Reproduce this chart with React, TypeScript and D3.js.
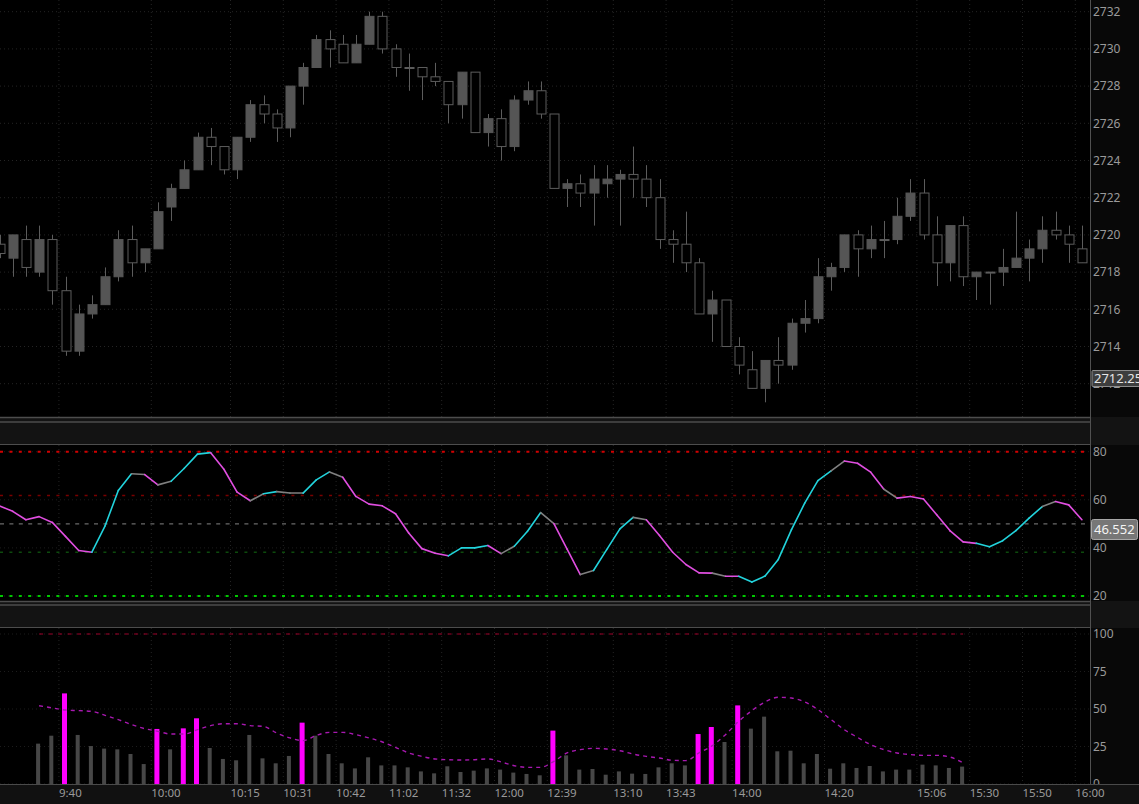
import * as d3 from 'd3';

// price candles, one per bar (index 0..82)
const opens = [2719.5, 2718.75, 2719.75, 2718.0, 2719.75, 2717.0, 2713.75, 2715.75, 2716.25, 2717.75,
  2719.75, 2718.5, 2719.25, 2721.5, 2722.5, 2723.5, 2725.25, 2724.75, 2723.5, 2725.25,
  2727.0, 2726.5, 2725.75, 2728.0, 2729.0, 2730.5, 2730.25, 2729.25, 2730.25, 2731.75,
  2730.0, 2729.0, 2729.0, 2728.5, 2728.25, 2727.0, 2728.75, 2725.5, 2726.25, 2724.75,
  2727.25, 2727.75, 2726.5, 2722.5, 2722.75, 2722.25, 2722.75, 2723.0, 2723.25, 2723.0,
  2722.0, 2719.75, 2719.5, 2718.5, 2715.75, 2716.5, 2714.0, 2712.75, 2711.75, 2713.25,
  2713.0, 2715.25, 2715.5, 2717.75, 2718.25, 2720.0, 2719.25, 2719.75, 2719.75, 2721.0,
  2722.25, 2720.0, 2718.5, 2720.5, 2717.75, 2718.0, 2718.0, 2718.25, 2718.75, 2719.25,
  2720.25, 2720.0, 2719.25];
const highs = [2720.0, 2720.0, 2720.5, 2720.5, 2720.0, 2717.75, 2716.25, 2716.75, 2718.25, 2720.25,
  2720.5, 2719.25, 2721.75, 2722.75, 2724.0, 2725.5, 2725.75, 2724.75, 2725.25, 2727.25,
  2727.5, 2726.75, 2728.0, 2729.25, 2730.75, 2731.0, 2730.75, 2730.75, 2732.0, 2732.0,
  2730.25, 2729.75, 2729.0, 2729.25, 2728.25, 2728.75, 2728.75, 2726.5, 2726.75, 2727.5,
  2728.25, 2728.25, 2726.5, 2723.0, 2723.25, 2723.75, 2723.75, 2723.5, 2724.75, 2723.75,
  2723.0, 2720.25, 2721.25, 2718.75, 2717.0, 2716.5, 2714.5, 2713.75, 2713.25, 2714.5,
  2715.5, 2716.5, 2718.75, 2718.5, 2720.0, 2720.25, 2720.5, 2720.75, 2722.0, 2723.0,
  2723.0, 2721.0, 2720.5, 2721.0, 2718.0, 2718.0, 2719.25, 2721.25, 2719.75, 2721.0,
  2721.25, 2720.5, 2720.5];
const lows = [2718.75, 2717.75, 2717.75, 2717.75, 2716.25, 2713.5, 2713.5, 2715.5, 2716.25, 2717.5,
  2717.75, 2718.0, 2719.25, 2720.75, 2722.5, 2723.5, 2723.75, 2723.25, 2723.0, 2725.0,
  2726.0, 2725.0, 2725.25, 2727.0, 2729.0, 2729.0, 2729.25, 2729.25, 2730.25, 2729.75,
  2728.5, 2727.75, 2727.25, 2728.0, 2726.0, 2726.25, 2725.5, 2724.75, 2724.0, 2724.5,
  2727.0, 2726.25, 2722.5, 2721.5, 2721.5, 2720.5, 2722.0, 2720.5, 2722.0, 2721.5,
  2719.25, 2718.5, 2718.0, 2715.75, 2714.25, 2714.0, 2712.5, 2711.75, 2711.0, 2712.0,
  2712.75, 2714.75, 2715.25, 2717.0, 2718.0, 2717.75, 2718.75, 2718.75, 2719.5, 2720.75,
  2719.75, 2717.25, 2717.5, 2717.25, 2716.5, 2716.25, 2717.25, 2718.25, 2717.5, 2718.5,
  2719.75, 2718.5, 2718.5];
const closes = [2719.0, 2720.0, 2718.25, 2719.75, 2717.0, 2713.75, 2715.75, 2716.25, 2717.75, 2719.75,
  2718.5, 2719.25, 2721.25, 2722.5, 2723.5, 2725.25, 2724.75, 2723.5, 2725.25, 2727.0,
  2726.5, 2725.75, 2728.0, 2729.0, 2730.5, 2730.0, 2729.25, 2730.25, 2731.75, 2730.0,
  2729.0, 2729.0, 2728.5, 2728.25, 2727.0, 2728.75, 2725.5, 2726.25, 2724.75, 2727.25,
  2727.75, 2726.5, 2722.5, 2722.75, 2722.25, 2723.0, 2723.0, 2723.25, 2723.0, 2722.0,
  2719.75, 2719.5, 2718.5, 2715.75, 2716.5, 2714.0, 2713.0, 2711.75, 2713.25, 2713.0,
  2715.25, 2715.5, 2717.75, 2718.25, 2720.0, 2719.25, 2719.75, 2719.75, 2721.0, 2722.25,
  2720.0, 2718.5, 2720.5, 2717.75, 2718.0, 2718.0, 2718.25, 2718.75, 2719.25, 2720.25,
  2720.0, 2719.5, 2718.5];

// RSI (index 0..83), segment colours: m = falling, c = rising, g = neutral
const rsiValues = [57.5, 55.2, 51.7, 53.0, 50.6, 44.8, 38.9, 38.2, 49.2, 63.9,
  70.8, 70.5, 66.2, 67.7, 73.1, 79.0, 79.6, 72.7, 63.2, 59.6,
  62.5, 63.4, 62.8, 62.8, 68.3, 71.6, 69.4, 61.4, 58.2, 57.5,
  54.2, 46.2, 39.7, 37.8, 36.7, 40.0, 40.0, 41.0, 37.6, 40.7,
  46.9, 54.7, 50.1, 39.5, 28.9, 30.6, 39.3, 47.9, 52.7, 51.7,
  45.2, 38.2, 33.1, 29.6, 29.5, 28.2, 28.2, 25.8, 28.3, 35.2,
  47.6, 58.6, 68.0, 72.0, 76.1, 75.2, 71.5, 64.4, 60.7, 61.4,
  60.3, 53.8, 47.2, 42.5, 41.9, 40.5, 43.0, 47.2, 52.4, 57.2,
  59.3, 57.9, 51.7, 46.552];
const rsiColors = 'mmmmmmmcccgmgcccmmmgcggccgmmmmmmmmcccmgccgmmgcccgmmmmmgmcccccccgmmmgmmmmmmcccccgmm'.split('');
const rsiLevels = [80, 61.8, 50, 38.2, 20];
const rsiTicks = [20, 40, 60, 80];

// volume (starting at bar 3), with its average
const volStart = 3;
const volumes = [26.9, 32.2, 60.4, 32.7, 25.3, 23.6, 23.1, 20, 13.3, 36.7,
  23.1, 37.1, 43.8, 24, 16.7, 15.8, 32.7, 17.1, 13.8, 18.7,
  40.9, 32.2, 20, 13.8, 10.4, 17.8, 12.4, 12.4, 11.1, 8.4,
  7.1, 11.8, 8, 8.9, 10.4, 9.6, 7.6, 6.7, 5.8, 35.6,
  19.1, 9.6, 10, 6.2, 8.4, 6.9, 6.7, 11.1, 13.8, 12.4,
  33.3, 38, 28, 52.4, 36.9, 44.9, 21.8, 22.2, 13.8, 20,
  10.2, 13.8, 10.7, 12, 8.4, 9.6, 9.6, 12.9, 12.4, 10.7, 11.6];
const volAvg = [52.2, 50.7, 49.3, 48.9, 48.4, 45.8, 42.9, 39.6, 36.9, 35.1,
  33.3, 33.3, 36.2, 38.9, 40.2, 40.2, 38.9, 38.4, 34, 30.7,
  28.9, 32.4, 34.4, 34.4, 32.9, 30.7, 28, 24.4, 20.7, 18.4,
  16.7, 16.2, 16, 16.2, 16.7, 14.7, 12.2, 11.1, 11.1, 15.1,
  20.7, 22.9, 23.8, 23.3, 22.2, 20, 18.4, 17.3, 15.8, 15.6,
  20.7, 25.6, 32.9, 41.8, 48.9, 54.7, 57.8, 57.3, 54.7, 49.6,
  42.9, 36.2, 31.1, 26.2, 22.9, 20.7, 19.6, 19.1, 19.1, 18, 14];
const volSpikes = [5, 12, 14, 15, 23, 42, 53, 54, 56];
const volTicks = [0, 25, 50, 75, 100];

const priceTicks = [2712, 2714, 2716, 2718, 2720, 2722, 2724, 2726, 2728, 2730, 2732];
const timeTicks = [
  { i: 5, label: '9:40' }, { i: 12, label: '10:00' }, { i: 18, label: '10:15' }, { i: 22, label: '10:31' },
  { i: 26, label: '10:42' }, { i: 30, label: '11:02' }, { i: 34, label: '11:32' }, { i: 38, label: '12:00' },
  { i: 42, label: '12:39' }, { i: 47, label: '13:10' }, { i: 51, label: '13:43' }, { i: 56, label: '14:00' },
  { i: 63, label: '14:20' }, { i: 70, label: '15:06' }, { i: 74, label: '15:30' }, { i: 78, label: '15:50' },
  { i: 82, label: '16:00' },
];
const lastPrice = '2712.25';
const lastRsi = '46.552';

const App = () => {
  const width = 1139;
  const height = 804;
  const plotRight = 1090;
  const price = { top: 0, bottom: 417 };
  const rsi = { top: 445, bottom: 602 };
  const vol = { top: 628, bottom: 784 };
  const font = "'Noto Sans', 'Open Sans', sans-serif";
  const axisColor = '#9a9a9a';
  const gridColor = '#242424';

  const x = d3.scaleLinear().domain([0, 82]).range([-0.5, 1081.9]);
  const yPrice = d3.scaleLinear().domain([2712, 2732]).range([383.7, 11.7]);
  const yRsi = d3.scaleLinear().domain([20, 80]).range([596, 451.7]);
  const yVol = d3.scaleLinear().domain([0, 100]).range([784, 634]);

  const rsiColorMap: Record<string, string> = { m: '#e04ee0', c: '#22d3dc', g: '#808080' };
  const levelStyle: Record<number, { c: string, w: number, d: string }> = {
    80: { c: '#d10000', w: 2, d: '3,6.4' },
    61.8: { c: '#7a0000', w: 1.5, d: '3,6.4' },
    50: { c: '#6a6a6a', w: 1.3, d: '4,5.4' },
    38.2: { c: '#0d4a0d', w: 1.5, d: '3,6.4' },
    20: { c: '#00c800', w: 2, d: '3,6.4' },
  };

  const avgLine = d3.line<number>()
    .x((_, k) => x(k + volStart))
    .y(d => yVol(d))
    .curve(d3.curveMonotoneX);

  const seg = d3.line<[number, number]>();

  const separator = (y1: number, y2: number, y3: number) => (
    <g>
      <rect x={0} y={y1} width={width} height={y3 - y1} fill="#131313" />
      <line x1={0} x2={plotRight} y1={y1 + 0.5} y2={y1 + 0.5} stroke="#4d4d4d" strokeWidth={1.5} />
      <line x1={0} x2={plotRight} y1={y2 + 0.5} y2={y2 + 0.5} stroke="#4d4d4d" strokeWidth={1.5} />
      <line x1={0} x2={plotRight} y1={y3 - 0.5} y2={y3 - 0.5} stroke="#4d4d4d" />
    </g>
  );

  return (
    <svg width={width} height={height} style={{ position: 'absolute', left: 0, top: 0, display: 'block' }}
      fontFamily={font}>
      <defs>
        <clipPath id="clipPrice"><rect x={0} y={price.top} width={plotRight} height={price.bottom - price.top} /></clipPath>
        <clipPath id="clipRsi"><rect x={0} y={rsi.top} width={plotRight} height={rsi.bottom - rsi.top} /></clipPath>
        <clipPath id="clipVol"><rect x={0} y={vol.top} width={plotRight} height={vol.bottom - vol.top} /></clipPath>
        <clipPath id="clipVolAxis"><rect x={plotRight} y={vol.top} width={60} height={vol.bottom - vol.top} /></clipPath>
      </defs>
      <rect x={0} y={0} width={width} height={height} fill="#080808" />
      <rect x={0} y={price.top} width={plotRight} height={price.bottom - price.top} fill="#000" />
      <rect x={0} y={rsi.top} width={plotRight} height={rsi.bottom - rsi.top} fill="#000" />
      <rect x={0} y={vol.top} width={plotRight} height={vol.bottom - vol.top} fill="#000" />
      <rect x={0} y={vol.bottom} width={width} height={height - vol.bottom} fill="#111" />

      {/* price panel */}
      <g clipPath="url(#clipPrice)">
        {priceTicks.map(t => (
          <line key={t} x1={0} x2={plotRight} y1={yPrice(t)} y2={yPrice(t)} stroke={gridColor} strokeDasharray="1,3" />
        ))}
        {timeTicks.map(t => (
          <line key={t.i} x1={x(t.i - 0.5)} x2={x(t.i - 0.5)} y1={price.top} y2={price.bottom} stroke={gridColor} strokeDasharray="1,3" />
        ))}
        {closes.map((c, i) => {
          const o = opens[i];
          const up = c > o;
          const top = yPrice(Math.max(o, c));
          const bot = yPrice(Math.min(o, c));
          const cx = Math.round(x(i)) + 0.5;
          return (
            <g key={i}>
              <line x1={cx} x2={cx} y1={yPrice(highs[i])} y2={yPrice(lows[i])} stroke="#5c5c5c" />
              <rect x={cx - 4.5} y={top} width={9} height={Math.max(bot - top, 1)}
                fill={up ? '#555' : '#000'} stroke={up ? '#555' : '#5c5c5c'} />
            </g>
          );
        })}
      </g>

      {separator(417, 421.5, 445)}

      {/* RSI panel */}
      <g clipPath="url(#clipRsi)">
        {rsiTicks.map(t => (
          <line key={t} x1={0} x2={plotRight} y1={yRsi(t)} y2={yRsi(t)} stroke="#1c1c1c" strokeDasharray="1,3" />
        ))}
        {timeTicks.map(t => (
          <line key={t.i} x1={x(t.i - 0.5)} x2={x(t.i - 0.5)} y1={rsi.top} y2={rsi.bottom} stroke={gridColor} strokeDasharray="1,3" />
        ))}
        {rsiLevels.map(l => (
          <line key={l} x1={0} x2={plotRight} y1={yRsi(l)} y2={yRsi(l)} stroke={levelStyle[l].c}
            strokeWidth={levelStyle[l].w} strokeDasharray={levelStyle[l].d} />
        ))}
        {rsiColors.map((col, k) => (
          <path key={k}
            d={seg([[x(k), yRsi(rsiValues[k])], [x(k + 1), yRsi(rsiValues[k + 1])]]) || ''}
            fill="none" stroke={rsiColorMap[col]} strokeWidth={1.6} strokeLinecap="round" />
        ))}
      </g>

      {separator(601, 604.5, 628)}

      {/* volume panel */}
      <g clipPath="url(#clipVol)">
        {volTicks.map(t => (
          <line key={t} x1={0} x2={plotRight} y1={yVol(t)} y2={yVol(t)} stroke="#1c1c1c" strokeDasharray="1,3" />
        ))}
        {timeTicks.map(t => (
          <line key={t.i} x1={x(t.i - 0.5)} x2={x(t.i - 0.5)} y1={vol.top} y2={vol.bottom} stroke={gridColor} strokeDasharray="1,3" />
        ))}
        <line x1={x(volStart)} x2={x(volStart + volumes.length - 1)} y1={yVol(100)} y2={yVol(100)}
          stroke="#a0002a" strokeDasharray="4,5.5" />
        {volumes.map((v, k) => {
          const i = k + volStart;
          const spike = volSpikes.includes(i);
          const w = spike ? 5 : 4;
          return (
            <rect key={i} x={x(i) - 1 - w / 2} y={yVol(v)} width={w} height={yVol(0) - yVol(v)}
              fill={spike ? '#ff00ff' : '#474747'} />
          );
        })}
        <path d={avgLine(volAvg) || ''} fill="none" stroke="#a818b0" strokeWidth={1.4} strokeDasharray="4,4" />
      </g>
      <line x1={0} x2={width} y1={vol.bottom + 0.5} y2={vol.bottom + 0.5} stroke="#4a4a4a" />

      {/* right axis */}
      <line x1={plotRight + 0.5} x2={plotRight + 0.5} y1={0} y2={vol.bottom} stroke="#505050" />
      {priceTicks.map(t => (
        <text key={t} x={plotRight + 3} y={yPrice(t)} dy="0.35em" fill={axisColor} fontSize={12}>{t}</text>
      ))}
      <rect x={plotRight + 2} y={370.5} width={52} height={16} fill="#3d3d3d" stroke="#8c8c8c" rx={1} />
      <text x={plotRight + 4} y={378.5} dy="0.35em" fill="#e6e6e6" fontSize={13}>{lastPrice}</text>

      {rsiTicks.map(t => (
        <text key={t} x={plotRight + 3} y={yRsi(t)} dy="0.35em" fill={axisColor} fontSize={12}>{t}</text>
      ))}
      <rect x={plotRight + 1.5} y={519.5} width={46} height={20} fill="#777" stroke="#a8a8a8" rx={2} />
      <text x={plotRight + 4} y={529.5} dy="0.35em" fill="#f4f4f4" fontSize={13}>{lastRsi}</text>

      <g clipPath="url(#clipVolAxis)">
        {volTicks.map(t => (
          <text key={t} x={plotRight + 3} y={yVol(t)} dy="0.35em" fill={axisColor} fontSize={12}>{t}</text>
        ))}
      </g>

      {/* time axis */}
      {timeTicks.map(t => (
        <text key={t.i} x={x(t.i - 0.5)} y={793} dy="0.35em" fill={axisColor} fontSize={11.5}>{t.label}</text>
      ))}
    </svg>
  );
};

export default App;
